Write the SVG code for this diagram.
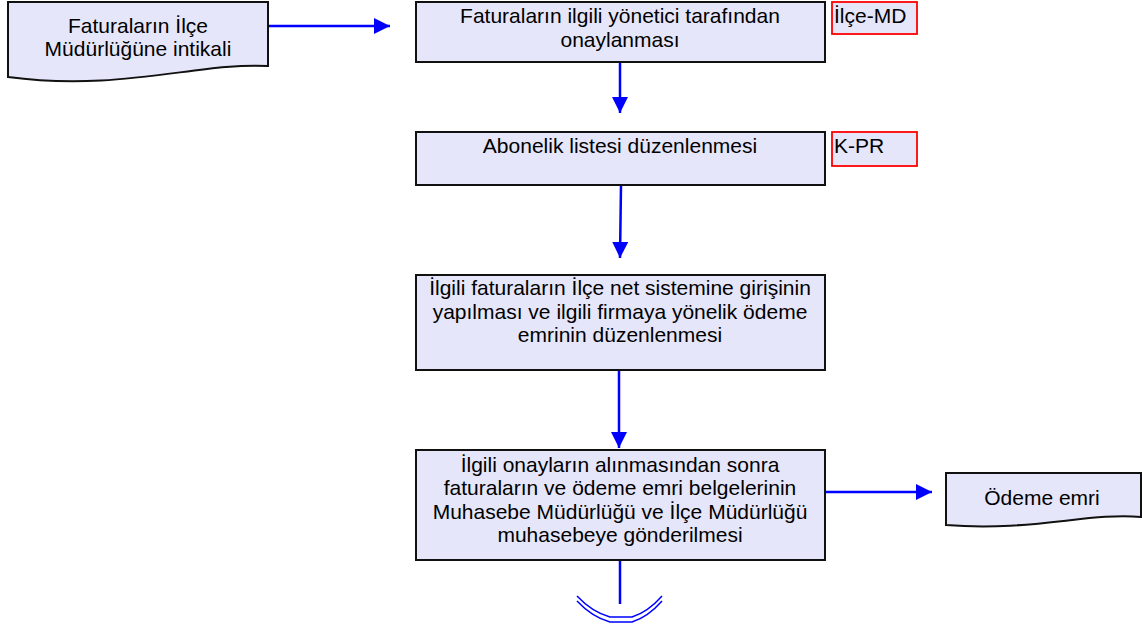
<svg xmlns="http://www.w3.org/2000/svg" width="1142" height="625" viewBox="0 0 1142 625">
<style>
.box{fill:#E6E6FA;stroke:#111;stroke-width:2}
.lab{fill:#E6E6FA;stroke:#F00;stroke-width:1.8}
.t{font-family:"Liberation Sans",Arial,sans-serif;font-size:21px;fill:#000;text-anchor:middle}
.tl{font-family:"Liberation Sans",Arial,sans-serif;font-size:21px;fill:#000}
.c{stroke:#0000FF;stroke-width:2.5;fill:none}
</style>
<defs>
<marker id="ah" viewBox="0 0 10 10" refX="10" refY="5" markerWidth="16" markerHeight="16" markerUnits="userSpaceOnUse" orient="auto">
<path d="M0,0 L10,5 L0,10 Z" fill="#0000FF"/>
</marker>
</defs>
<g id="connectors">
<line class="c" x1="268" y1="26" x2="390" y2="26" marker-end="url(#ah)"/>
<line class="c" x1="620" y1="62" x2="620" y2="113" marker-end="url(#ah)"/>
<line class="c" x1="621" y1="185" x2="620" y2="258" marker-end="url(#ah)"/>
<line class="c" x1="619" y1="370" x2="619" y2="448" marker-end="url(#ah)"/>
<line class="c" x1="825" y1="492" x2="932" y2="492" marker-end="url(#ah)"/>
<line class="c" x1="620" y1="560" x2="620" y2="604"/>
</g>
<g id="n1">
<path class="box" d="M8,2 H268 V66 C200,62 120,92 8,77 Z"/>
<text class="t" x="138" y="33">Faturaların İlçe</text>
<text class="t" x="138" y="56">Müdürlüğüne intikali</text>
</g>
<g id="n2">
<rect class="box" x="416" y="2" width="409" height="60"/>
<text class="t" x="620" y="23">Faturaların ilgili yönetici tarafından</text>
<text class="t" x="620" y="47">onaylanması</text>
</g>
<g id="l1">
<rect class="lab" x="832" y="2" width="85" height="32"/>
<text class="tl" x="834" y="23">İlçe-MD</text>
</g>
<g id="n3">
<rect class="box" x="416" y="132" width="409" height="53"/>
<text class="t" x="620" y="153">Abonelik listesi düzenlenmesi</text>
</g>
<g id="l2">
<rect class="lab" x="832" y="132" width="85" height="34"/>
<text class="tl" x="834" y="153">K-PR</text>
</g>
<g id="n4">
<rect class="box" x="416" y="275" width="409" height="95"/>
<text class="t" x="620" y="295">İlgili faturaların İlçe net sistemine girişinin</text>
<text class="t" x="620" y="319">yapılması ve ilgili firmaya yönelik ödeme</text>
<text class="t" x="620" y="342">emrinin düzenlenmesi</text>
</g>
<g id="n5">
<rect class="box" x="416" y="450" width="409" height="110"/>
<text class="t" x="620" y="472">İlgili onayların alınmasından sonra</text>
<text class="t" x="620" y="495">faturaların ve ödeme emri belgelerinin</text>
<text class="t" x="620" y="519">Muhasebe Müdürlüğü ve İlçe Müdürlüğü</text>
<text class="t" x="620" y="542">muhasebeye gönderilmesi</text>
</g>
<g id="n6">
<path class="box" d="M946,473 H1141 V517 C1090,512 1030,532 946,525 Z"/>
<text class="t" x="1042" y="505">Ödeme emri</text>
</g>
<g id="n7">
<path d="M577,596 Q592,612 610,617 H632 Q648,612 662,596" fill="none" stroke="#0000FF" stroke-width="1.5"/>
<path d="M577,601 Q592,617 610,622 H632 Q648,617 662,601" fill="none" stroke="#0000FF" stroke-width="1.5"/>
</g>
</svg>
